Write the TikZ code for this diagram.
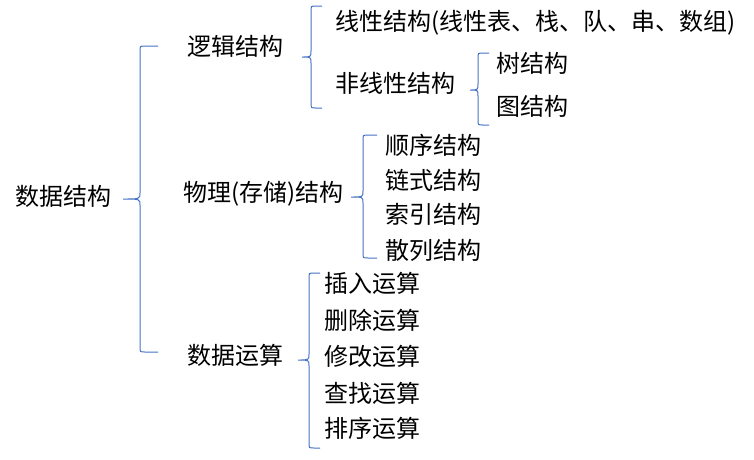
\documentclass[tikz,border=0pt]{standalone}
\usepackage{fontspec}
\setmainfont{Noto Sans CJK SC}
\usetikzlibrary{positioning}
\definecolor{bracecol}{HTML}{4472C4}
\tikzset{
  item/.style={anchor=west, inner sep=0pt, text height=0.88em, text depth=0.12em, yshift=-3.5pt, font=\fontsize{24}{28}\selectfont},
  brace/.style={draw=bracecol, line width=1pt}
}
% left curly bracket: tip x, tip y, line x, top y, bottom y, hook x
\newcommand{\groupbrace}[6]{%
  \draw[brace] (#6,#4) -- ({#3+5},#4) .. controls (#3,#4) .. ({#3},{#4+5})
    -- ({#3},{#2-6}) .. controls (#3,#2) .. (#1,#2)
    .. controls (#3,#2) .. ({#3},{#2+6}) -- ({#3},{#5-5})
    .. controls (#3,#5) .. ({#3+5},#5) -- (#6,#5);
}

\begin{document}
\begin{tikzpicture}[x=1pt, y=-1pt]
  \useasboundingbox (0,0) rectangle (754,459);

  \node[item] (root) at (15,198) {数据结构};

  \node[item] (logic) at (187,48) {逻辑结构};
  \node[item] (phys) at (183,194) {物理(存储)结构};
  \node[item] (ops) at (187,357) {数据运算};

  \node[item] (linear) at (335,23) {线性结构(线性表、栈、队、串、数组)};
  \node[item] (nonlinear) at (335,85) {非线性结构};
  \node[item] (tree) at (496,65) {树结构};
  \node[item] (graph) at (496,108) {图结构};

  \node[item] (seq) at (385,147) {顺序结构};
  \node[item] (link) at (385,182) {链式结构};
  \node[item] (idx) at (385,216) {索引结构};
  \node[item] (hash) at (385,252) {散列结构};

  \node[item] (ins) at (324,285) {插入运算};
  \node[item] (del) at (324,322) {删除运算};
  \node[item] (mod) at (324,358) {修改运算};
  \node[item] (find) at (324,395) {查找运算};
  \node[item] (sort) at (324,430) {排序运算};

  \groupbrace{123}{199}{140}{46}{352}{158}
  \groupbrace{302}{57}{311}{6}{108}{322}
  \groupbrace{470}{90}{478}{53}{125}{489}
  \groupbrace{351}{197}{363}{135}{258}{377}
  \groupbrace{298}{360}{309}{273}{448}{320}
\end{tikzpicture}
\end{document}
